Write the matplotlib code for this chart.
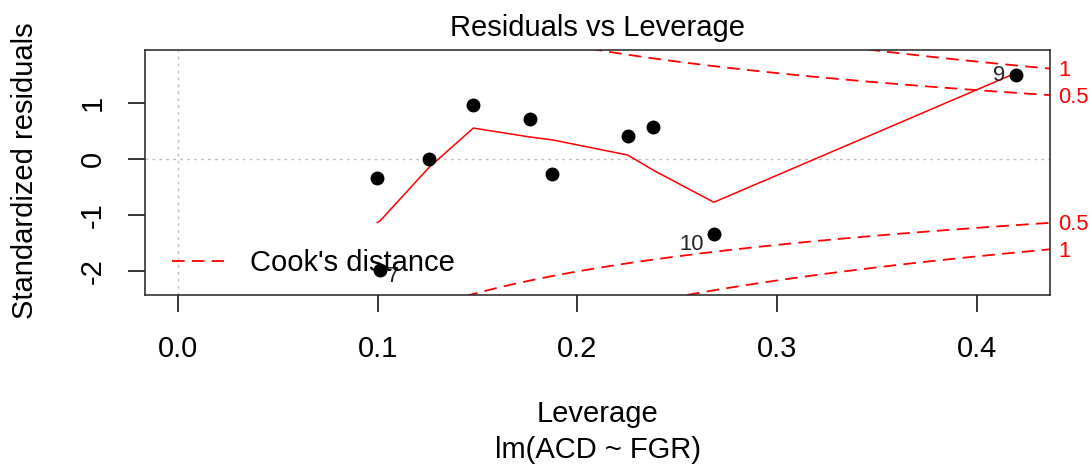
import numpy as np
import matplotlib.pyplot as plt

plt.rcParams['font.family'] = ['Liberation Sans', 'DejaVu Sans']

## --- values (plot.lm, which = 5) ---
obs_id   = [1, 2, 3, 4, 5, 6, 7, 8, 9, 10]
leverage = [0.0998, 0.1257, 0.1479, 0.1763, 0.1874, 0.2252, 0.1012, 0.2380, 0.4196, 0.2683]
std_res  = [-0.33, 0.00, 0.96, 0.705, -0.27, 0.41, -1.97, 0.57, 1.49, -1.34]
labelled = [9, 10, 7]

## red smoother through the points
smooth_x = [0.0998, 0.1012, 0.1257, 0.1479, 0.1763, 0.1874, 0.2252, 0.2380, 0.2683, 0.4196]
smooth_y = [-1.13, -1.10, -0.15, 0.55, 0.39, 0.34, 0.07, -0.20, -0.77, 1.53]

## Cook's distance contours: p coefficients, levels 0.5 and 1
n_coef = 2
cook_levels = [0.5, 1.0]

x_lim = (-0.0165, 0.4366)
y_lim = (-2.419, 1.947)

fig = plt.figure(figsize=(10.92, 4.71), dpi=100)
ax = fig.add_axes([145 / 1092, 1 - 295 / 471, 905 / 1092, 245.5 / 471])

ax.axhline(0, color='#bebebe', lw=1.0, dashes=(2, 3), zorder=1)
ax.axvline(0, color='#bebebe', lw=1.0, dashes=(2, 3), zorder=1)

ax.plot(smooth_x, smooth_y, color='#ff0000', lw=1.1, zorder=2)
ax.plot(leverage, std_res, 'o', color='black', ms=9, zorder=3)

hh = np.linspace(min(leverage) / 25, x_lim[1], 101)
for lvl in cook_levels:
    cl = np.sqrt(lvl * n_coef * (1 - hh) / hh)
    ax.plot(hh, cl, color='#ff0000', lw=1.3, dashes=(7, 4), zorder=2)
    ax.plot(hh, -cl, color='#ff0000', lw=1.3, dashes=(7, 4), zorder=2)

## level labels on the right side
xr = x_lim[1]
for lvl in cook_levels:
    yv = np.sqrt(lvl * n_coef * (1 - xr) / xr)
    for s in (1, -1):
        ax.annotate(f'{lvl:g}', xy=(1, s * yv), xycoords=('axes fraction', 'data'),
                    xytext=(6, -1.5), textcoords='offset points',
                    ha='left', va='center', fontsize=15.8, color='#ff0000',
                    annotation_clip=False)

## point ids
offsets = {9: (-8, -0.5, 'right'), 10: (-7.5, -7, 'right'), 7: (5, -5, 'left')}
for i in labelled:
    k = obs_id.index(i)
    dx, dy, ha = offsets[i]
    ax.annotate(str(i), xy=(leverage[k], std_res[k]), xytext=(dx, dy),
                textcoords='offset points', ha=ha, va='center', fontsize=15.8,
                color='#222222')

ax.plot([], [], color='#ff0000', lw=1.3, dashes=(7, 4), label="Cook's distance")
ax.legend(loc='center left', bbox_to_anchor=(0.0134, 0.129), frameon=False,
          borderpad=0, handlelength=1.8, handletextpad=0.9, fontsize=21)

ax.set_xlim(*x_lim)
ax.set_ylim(*y_lim)
ax.set_xticks([0.0, 0.1, 0.2, 0.3, 0.4])
ax.set_xticklabels(['0.0', '0.1', '0.2', '0.3', '0.4'])
ax.set_yticks([-2, -1, 0, 1])
ax.set_yticklabels(['-2', '-1', '0', '1'])
ax.tick_params(axis='both', length=12, width=1.1, labelsize=21, direction='out')
ax.tick_params(axis='x', pad=17)
ax.tick_params(axis='y', pad=15.5, labelrotation=90)
for t in ax.get_yticklabels():
    t.set_va('center')
for sp in ax.spines.values():
    sp.set_linewidth(1.1)
    sp.set_color('#222222')

fig.text(597.5 / 1092, 1 - 28 / 471, 'Residuals vs Leverage', ha='center', va='center', fontsize=21)
fig.text(597.5 / 1092, 1 - 414 / 471, 'Leverage', ha='center', va='center', fontsize=21)
fig.text(597.5 / 1092, 1 - 450 / 471, 'lm(ACD ~ FGR)', ha='center', va='center', fontsize=21)
fig.text(25 / 1092, 1 - 171 / 471, 'Standardized residuals', rotation=90,
         ha='center', va='center', fontsize=21)

fig.savefig('out.png', dpi=100)
